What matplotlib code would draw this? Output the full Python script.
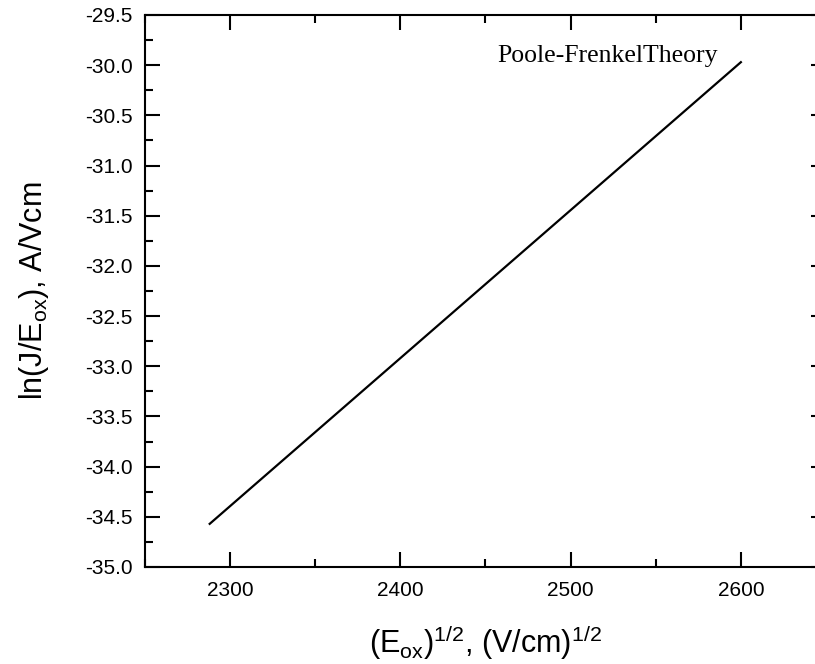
import matplotlib
matplotlib.use("Agg")
import matplotlib.pyplot as plt
from matplotlib.ticker import MultipleLocator

# Poole-Frenkel fit line (end points)
sqrt_field = [2288, 2600]
ln_j_over_e = [-34.57, -29.97]

x_ticks = [2300, 2400, 2500, 2600]
y_ticks = [-35.0, -34.5, -34.0, -33.5, -33.0, -32.5, -32.0, -31.5, -31.0, -30.5, -30.0, -29.5]

plt.rcParams['font.family'] = ['Liberation Sans', 'DejaVu Sans']
plt.rcParams['mathtext.default'] = 'regular'

fig = plt.figure(figsize=(8.15, 6.64), dpi=100)
# axes runs past the right edge of the figure, as in the original picture
ax = fig.add_axes([145 / 815, 97 / 664, 681 / 815, 552 / 664])

ax.plot(sqrt_field, ln_j_over_e, color='black', linewidth=1.6)

ax.set_xlim(2250, 2650)
ax.set_ylim(-35.0, -29.5)
ax.set_xticks(x_ticks)
ax.set_yticks(y_ticks)
ax.set_yticklabels([f"{v:.1f}" for v in y_ticks])
ax.xaxis.set_minor_locator(MultipleLocator(50))
ax.yaxis.set_minor_locator(MultipleLocator(0.25))

ax.tick_params(which='both', direction='in', top=True, right=True, width=1.5, labelsize=15)
ax.tick_params(which='major', length=11)
ax.tick_params(axis='x', which='major', pad=10)
ax.tick_params(axis='y', which='major', pad=9)
ax.tick_params(which='minor', length=6)
for s in ax.spines.values():
    s.set_linewidth(1.5)

ax.set_xlabel(r'$(E_{ox})^{1/2}$, $(V/cm)^{1/2}$', fontsize=22, labelpad=17)
ax.set_ylabel(r'ln(J/$E_{ox}$), A/Vcm', fontsize=22, labelpad=24)

ax.text(2457, -29.91, 'Poole-FrenkelTheory', family='Liberation Serif',
        fontsize=18.5, va='center', ha='left')

fig.savefig('out.png', dpi=100)
